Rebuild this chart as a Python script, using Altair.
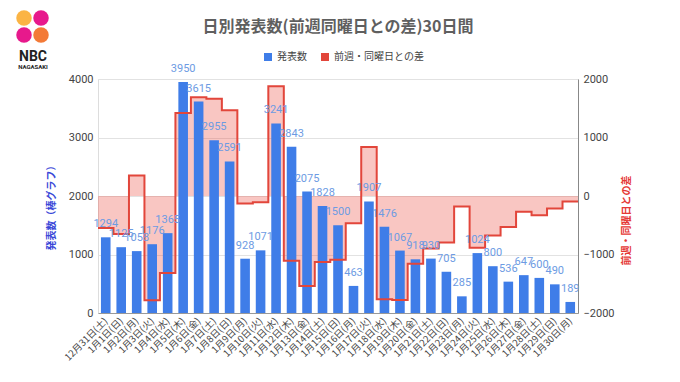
import altair as alt
import pandas as pd

dates = ["12月31日(土)", "1月1日(日)", "1月2日(月)", "1月3日(火)", "1月4日(水)", "1月5日(木)",
         "1月6日(金)", "1月7日(土)", "1月8日(日)", "1月9日(月)", "1月10日(火)", "1月11日(水)",
         "1月12日(木)", "1月13日(金)", "1月14日(土)", "1月15日(日)", "1月16日(月)", "1月17日(火)",
         "1月18日(水)", "1月19日(木)", "1月20日(金)", "1月21日(土)", "1月22日(日)", "1月23日(月)",
         "1月24日(火)", "1月25日(水)", "1月26日(木)", "1月27日(金)", "1月28日(土)", "1月29日(日)",
         "1月30日(月)"]
counts = [1294, 1125, 1058, 1176, 1365, 3950, 3615, 2955, 2591, 928, 1071, 3241, 2843, 2075,
          1828, 1500, 463, 1907, 1476, 1067, 918, 930, 705, 285, 1024, 800, 536, 647, 600, 490, 189]
diffs = [-547, -650, 350, -1780, -1316, 1420, 1690, 1661, 1466, -130, -105, 1876, -1107, -1540,
         -1127, -1091, -465, 836, -1765, -1776, -1157, -898, -795, -178, -883, -676, -531, -271,
         -330, -215, -96]
left_ticks = [0, 1000, 2000, 3000, 4000]
right_ticks = [-2000, -1000, 0, 1000, 2000]

TITLE = "日別発表数(前週同曜日との差)30日間"
S1 = "発表数"
S2 = "前週・同曜日との差"

BLUE = "#3f7de8"
RED = "#e2463b"
LABEL = "#6d9be3"
FONT = "Roboto, 'Noto Sans CJK JP', sans-serif"
JFONT = "'Noto Sans CJK JP', sans-serif"

n = len(dates)
df = pd.DataFrame({"idx": list(range(n)), "date": dates, "count": counts, "diff": diffs})
step_df = pd.DataFrame({"idx": list(range(n + 1)), "diff": diffs + [diffs[-1]]})

xscale = alt.Scale(domain=[0, n], nice=False, zero=False, padding=0)
label_expr = "[" + ",".join("'" + d + "'" for d in dates) + "][round(datum.value - 0.5)]"
xaxis = alt.Axis(values=[i + 0.5 for i in range(n)], labelExpr=label_expr, labelAngle=315,
                 labelAlign="right", labelBaseline="middle", ticks=False, grid=False,
                 domainColor="#999999", labelFontSize=9.5, labelColor="#444444",
                 labelPadding=6, labelOverlap=False, labelFlush=False, labelBound=False,
                 title=None, labelFont=JFONT)

lscale = alt.Scale(domain=[0, 4000], nice=False, padding=0)
rscale = alt.Scale(domain=[-2000, 2000], nice=False, padding=0)

left_axis = alt.Axis(values=left_ticks, orient="left", grid=True, gridColor="#e2e2e2",
                     domain=False, ticks=False, labelFontSize=11, labelColor="#444444",
                     labelPadding=5, format="d", title="発表数（棒グラフ）",
                     titleColor="#3a48d8", titleFontSize=10, titleFont=JFONT,
                     titleFontWeight="bold", titleAngle=270, titleX=-47, titleY=126,
                     titleBaseline="middle", titleAlign="center")
right_axis = alt.Axis(values=right_ticks, orient="right", grid=False, domain=True,
                      domainColor="#888888", ticks=False, labelFontSize=11,
                      labelColor="#444444", labelPadding=5, format="d", title=S2,
                      titleColor="#e53935", titleFontSize=10, titleFont=JFONT,
                      titleFontWeight="bold", titleAngle=270, titleX=48, titleY=141,
                      titleBaseline="middle", titleAlign="center")

area = alt.Chart(step_df).mark_area(interpolate="step-after", color="#ea4335", opacity=0.3).encode(
    x=alt.X("idx:Q", scale=xscale, axis=xaxis),
    y=alt.Y("diff:Q", scale=rscale, axis=right_axis),
    y2=alt.datum(0),
)

bars = alt.Chart(df).transform_calculate(
    x0="datum.idx + 0.19", x1="datum.idx + 0.81"
).mark_bar(color=BLUE).encode(
    x=alt.X("x0:Q", scale=xscale, axis=xaxis),
    x2="x1:Q",
    y=alt.Y("count:Q", scale=lscale, axis=left_axis),
    y2=alt.datum(0),
)

line = alt.Chart(step_df).mark_line(interpolate="step-after", color=RED, strokeWidth=2).encode(
    x=alt.X("idx:Q", scale=xscale, axis=xaxis),
    y=alt.Y("diff:Q", scale=rscale, axis=None),
)

labels = alt.Chart(df).transform_calculate(xc="datum.idx + 0.5").mark_text(
    color=LABEL, fontSize=11, baseline="alphabetic", dy=-10, font=FONT
).encode(
    x=alt.X("xc:Q", scale=xscale, axis=xaxis),
    y=alt.Y("count:Q", scale=lscale, axis=None),
    text=alt.Text("count:Q", format="d"),
)

one = pd.DataFrame({"k": [0]})
title = alt.Chart(one).mark_text(text=TITLE, fontSize=16, fontWeight="bold", color="#5f5f5f",
                                 font=JFONT, align="center", baseline="middle").encode(
    x=alt.value(240), y=alt.value(-52))
leg_sq1 = alt.Chart(one).mark_point(shape="square", filled=True, size=64, color=BLUE, opacity=1).encode(
    x=alt.value(170), y=alt.value(-22))
leg_sq2 = alt.Chart(one).mark_point(shape="square", filled=True, size=64, color=RED, opacity=1).encode(
    x=alt.value(227), y=alt.value(-22))
leg_t1 = alt.Chart(one).mark_text(text=S1, fontSize=10, color="#444444", font=JFONT,
                                  align="left", baseline="middle").encode(
    x=alt.value(179), y=alt.value(-22))
leg_t2 = alt.Chart(one).mark_text(text=S2, fontSize=10, color="#444444", font=JFONT,
                                  align="left", baseline="middle").encode(
    x=alt.value(236), y=alt.value(-22))

logo_c1 = alt.Chart(one).mark_circle(size=240, color="#fbb03b", opacity=0.95).encode(
    x=alt.value(-74), y=alt.value(-61))
logo_c2 = alt.Chart(one).mark_circle(size=240, color="#e4007f", opacity=0.9).encode(
    x=alt.value(-57), y=alt.value(-61))
logo_c3 = alt.Chart(one).mark_circle(size=240, color="#e4007f", opacity=0.9).encode(
    x=alt.value(-74), y=alt.value(-44))
logo_c4 = alt.Chart(one).mark_circle(size=240, color="#f26b21", opacity=0.9).encode(
    x=alt.value(-57), y=alt.value(-44))
logo_t1 = alt.Chart(one).mark_text(text="NBC", fontSize=14, fontWeight="bold", color="#222222",
                                   font="Roboto", align="center", baseline="alphabetic").encode(
    x=alt.value(-65), y=alt.value(-18))
logo_t2 = alt.Chart(one).mark_text(text="NAGASAKI", fontSize=6, fontWeight="bold", color="#222222",
                                   font="Roboto", align="center", baseline="alphabetic").encode(
    x=alt.value(-65), y=alt.value(-10))

chart = alt.layer(
    area, bars, line, labels, title, leg_sq1, leg_sq2, leg_t1, leg_t2,
    logo_c1, logo_c2, logo_c3, logo_c4, logo_t1, logo_t2
).resolve_scale(y="independent").properties(
    width=480, height=234,
    autosize=alt.AutoSizeParams(type="none"),
    padding={"left": 90, "top": 71, "right": 94, "bottom": 61},
).configure_view(stroke=None).configure(font=FONT)

chart.save("out.html", embed_options={"renderer": "svg", "actions": False})
